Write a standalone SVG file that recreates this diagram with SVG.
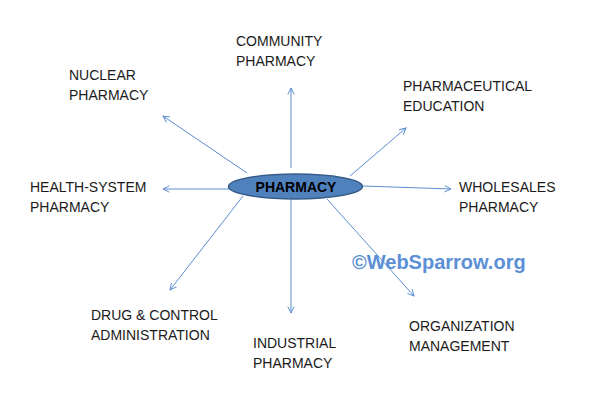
<svg xmlns="http://www.w3.org/2000/svg" width="594" height="415" viewBox="0 0 594 415">
<style>
.lbl{font-family:"Liberation Sans",Arial,sans-serif;font-size:14px;fill:#1a1a1a}
.c{stroke:#5b8ccf;stroke-width:1;fill:none;marker-end:url(#ah)}
</style>
<defs>
<marker id="ah" viewBox="0 0 10 10" refX="9" refY="5" markerWidth="8" markerHeight="8" markerUnits="userSpaceOnUse" orient="auto">
<path d="M1,1 L9,5 L1,9" fill="none" stroke="#5b8ccf" stroke-width="1.2"/>
</marker>
</defs>
<rect width="594" height="415" fill="#fff"/>
<g id="connectors">
<line class="c" x1="291" y1="168" x2="291" y2="88"/>
<line class="c" x1="247" y1="173" x2="163" y2="116"/>
<line class="c" x1="231" y1="189" x2="163" y2="189"/>
<line class="c" x1="243" y1="196" x2="170" y2="290"/>
<line class="c" x1="291" y1="199" x2="291" y2="313"/>
<line class="c" x1="327" y1="199" x2="414" y2="296"/>
<line class="c" x1="363" y1="186" x2="451" y2="189"/>
<line class="c" x1="350" y1="176" x2="406" y2="128"/>
</g>
<g id="pharmacy">
<ellipse cx="295.5" cy="186.5" rx="67" ry="12.5" fill="#4f81bd" stroke="#385d8a" stroke-width="1.5"/>
<text x="296" y="192" text-anchor="middle" font-family="'Liberation Sans',Arial,sans-serif" font-size="14" font-weight="bold" fill="#000">PHARMACY</text>
</g>
<g id="community"><text class="lbl" x="236" y="46">COMMUNITY</text><text class="lbl" x="236" y="66">PHARMACY</text></g>
<g id="nuclear"><text class="lbl" x="69" y="80">NUCLEAR</text><text class="lbl" x="69" y="100">PHARMACY</text></g>
<g id="education"><text class="lbl" x="403" y="91">PHARMACEUTICAL</text><text class="lbl" x="403" y="111">EDUCATION</text></g>
<g id="health"><text class="lbl" x="30" y="192">HEALTH-SYSTEM</text><text class="lbl" x="30" y="212">PHARMACY</text></g>
<g id="wholesales"><text class="lbl" x="459" y="192">WHOLESALES</text><text class="lbl" x="459" y="212">PHARMACY</text></g>
<g id="drug"><text class="lbl" x="91" y="320">DRUG &amp; CONTROL</text><text class="lbl" x="91" y="340">ADMINISTRATION</text></g>
<g id="industrial"><text class="lbl" x="253" y="348">INDUSTRIAL</text><text class="lbl" x="253" y="368">PHARMACY</text></g>
<g id="organization"><text class="lbl" x="409" y="331">ORGANIZATION</text><text class="lbl" x="409" y="351">MANAGEMENT</text></g>
<text x="352" y="269" font-family="'Liberation Sans',Arial,sans-serif" font-size="20" font-weight="bold" fill="#5b8fd6">©WebSparrow.org</text>
</svg>
